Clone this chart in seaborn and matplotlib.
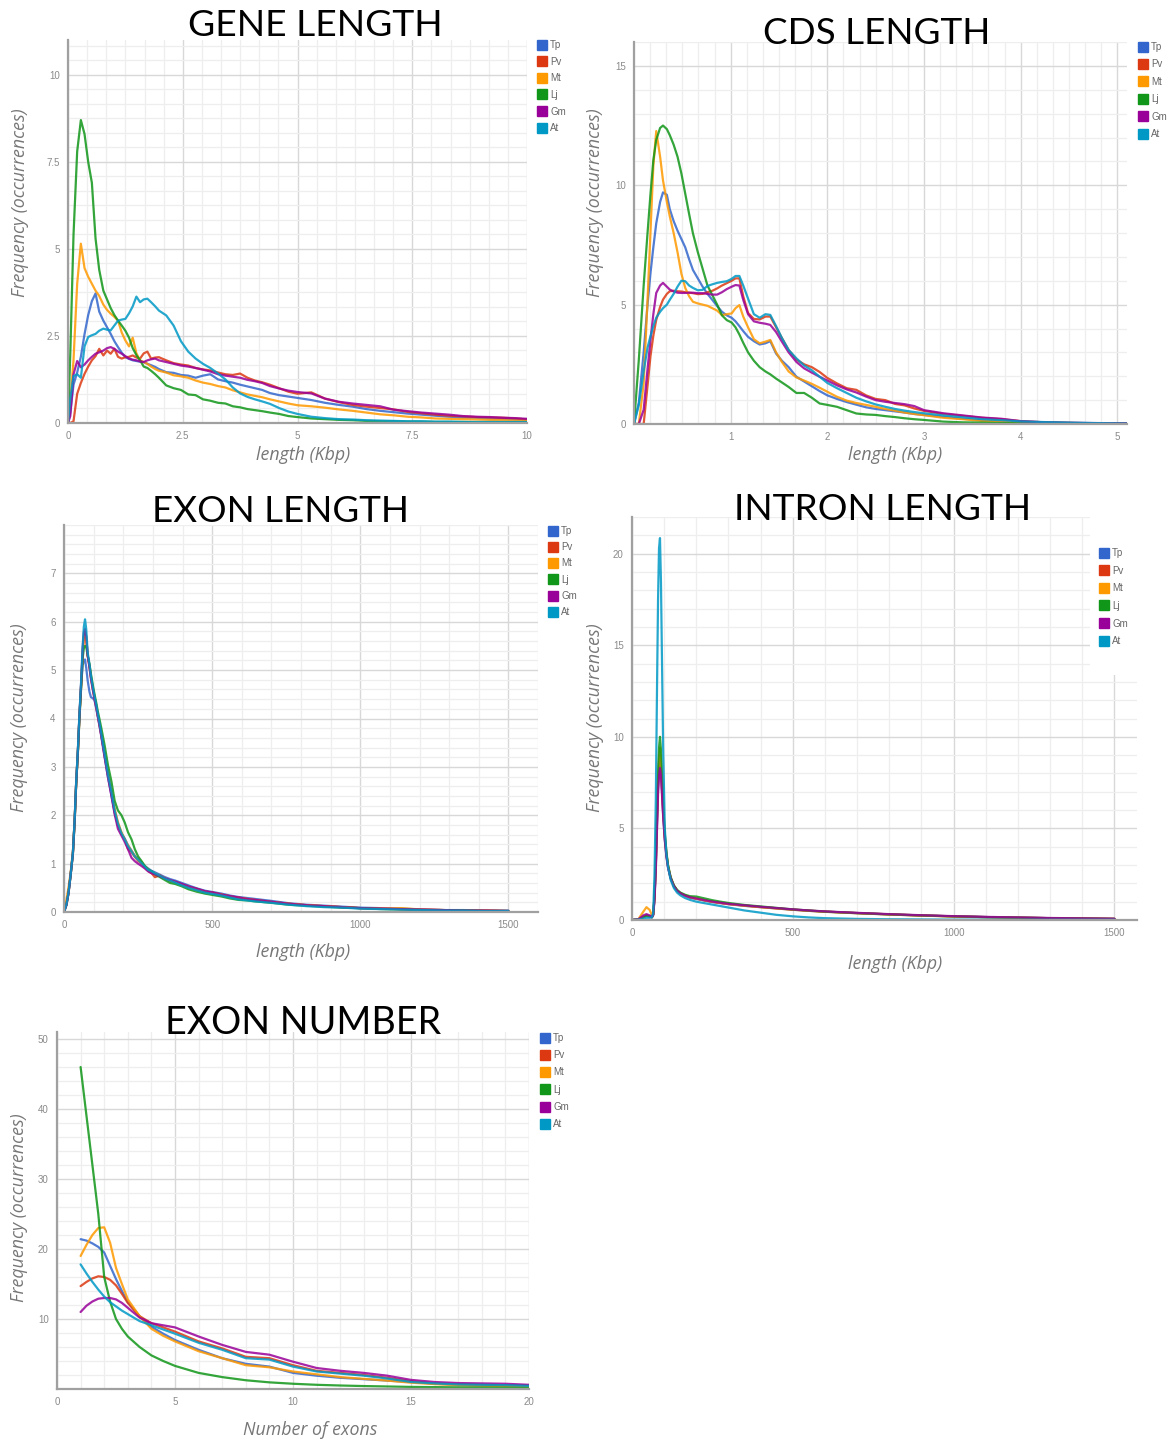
import matplotlib
matplotlib.use("Agg")
import matplotlib.pyplot as plt
from matplotlib.lines import Line2D
from matplotlib.patches import Rectangle
from matplotlib.ticker import MultipleLocator
import pandas as pd
import seaborn as sns

SPECIES = ["Tp", "Pv", "Mt", "Lj", "Gm", "At"]
COLORS = {"Tp": "#3366cc", "Pv": "#dc3912", "Mt": "#ff9900",
          "Lj": "#109618", "Gm": "#990099", "At": "#0099c6"}

# ---------------- gene length (Kbp) ----------------
gene_x = [0, 0.05, 0.12, 0.2, 0.28, 0.36, 0.44, 0.52, 0.6, 0.68,
          0.77, 0.85, 0.93, 1.01, 1.09, 1.17, 1.25, 1.33, 1.41, 1.49,
          1.57, 1.65, 1.73, 1.81, 1.9, 1.98, 2.14, 2.3, 2.46, 2.62,
          2.78, 2.94, 3.1, 3.27, 3.43, 3.59, 3.75, 3.91, 4.07, 4.23,
          4.4, 4.6, 4.8, 5.0, 5.3, 5.6, 5.9, 6.2, 6.5, 6.8,
          7.1, 7.4, 7.7, 8.0, 8.3, 8.6, 8.9, 9.2, 9.5, 9.75, 10.0]
gene_tp = [0, 0.3, 1.1, 1.45, 1.9, 2.55, 3.1, 3.5, 3.72, 3.2,
           2.94, 2.75, 2.56, 2.35, 2.18, 2.02, 1.89, 1.84, 1.8, 1.78,
           1.76, 1.75, 1.7, 1.66, 1.61, 1.55, 1.46, 1.44, 1.38, 1.36,
           1.3, 1.36, 1.4, 1.25, 1.2, 1.16, 1.1, 1.05, 1.0, 0.95,
           0.86, 0.8, 0.76, 0.72, 0.66, 0.58, 0.52, 0.47, 0.4, 0.35,
           0.31, 0.27, 0.24, 0.21, 0.18, 0.16, 0.15, 0.13, 0.12, 0.11, 0.1]
gene_pv = [0, 0, 0.05, 0.84, 1.15, 1.41, 1.62, 1.8, 1.92, 2.13,
           1.94, 2.08, 1.99, 2.13, 1.9, 1.85, 1.89, 1.9, 1.94, 1.88,
           1.85, 2.0, 2.05, 1.85, 1.88, 1.89, 1.8, 1.72, 1.68, 1.65,
           1.58, 1.54, 1.51, 1.45, 1.4, 1.38, 1.42, 1.3, 1.22, 1.17,
           1.1, 1.0, 0.9, 0.84, 0.88, 0.7, 0.6, 0.52, 0.47, 0.43,
           0.39, 0.32, 0.28, 0.24, 0.21, 0.19, 0.17, 0.16, 0.15, 0.13, 0.1]
gene_mt = [0, 0.6, 1.8, 4.0, 5.15, 4.45, 4.2, 4.0, 3.8, 3.65,
           3.4, 3.25, 3.14, 3.05, 2.94, 2.6, 2.37, 2.2, 2.45, 2.0,
           1.8, 1.75, 1.7, 1.62, 1.55, 1.5, 1.45, 1.37, 1.34, 1.3,
           1.22, 1.16, 1.12, 1.06, 1.02, 0.94, 0.88, 0.82, 0.78, 0.74,
           0.68, 0.62, 0.56, 0.51, 0.48, 0.44, 0.39, 0.35, 0.3, 0.25,
           0.22, 0.18, 0.16, 0.13, 0.12, 0.11, 0.1, 0.09, 0.08, 0.07, 0.06]
gene_lj = [0, 2.0, 5.4, 7.8, 8.7, 8.3, 7.5, 6.9, 5.3, 4.4,
           3.8, 3.55, 3.3, 3.1, 2.94, 2.8, 2.65, 2.45, 2.15, 1.95,
           1.8, 1.62, 1.58, 1.5, 1.4, 1.3, 1.08, 1.0, 0.95, 0.82,
           0.8, 0.68, 0.64, 0.58, 0.56, 0.48, 0.45, 0.4, 0.37, 0.34,
           0.3, 0.26, 0.2, 0.17, 0.13, 0.11, 0.09, 0.08, 0.06, 0.05,
           0.05, 0.04, 0.04, 0.03, 0.03, 0.03, 0.02, 0.02, 0.02, 0.02, 0.02]
gene_gm = [0, 0.2, 1.4, 1.78, 1.6, 1.68, 1.8, 1.9, 1.99, 2.03,
           2.08, 2.15, 2.18, 2.13, 2.05, 1.99, 1.92, 1.85, 1.82, 1.8,
           1.77, 1.75, 1.8, 1.83, 1.85, 1.8, 1.75, 1.7, 1.65, 1.62,
           1.58, 1.53, 1.48, 1.4, 1.36, 1.33, 1.3, 1.24, 1.2, 1.15,
           1.06, 0.99, 0.93, 0.89, 0.85, 0.7, 0.61, 0.56, 0.52, 0.48,
           0.38, 0.34, 0.3, 0.27, 0.24, 0.2, 0.18, 0.17, 0.15, 0.14, 0.12]
gene_at = [0, 0.7, 1.35, 1.4, 1.3, 2.2, 2.47, 2.52, 2.56, 2.65,
           2.71, 2.68, 2.66, 2.8, 2.94, 2.97, 2.99, 3.15, 3.35, 3.63,
           3.47, 3.55, 3.57, 3.47, 3.35, 3.23, 3.09, 2.8, 2.35, 2.05,
           1.85, 1.7, 1.58, 1.42, 1.25, 1.02, 0.85, 0.75, 0.68, 0.62,
           0.55, 0.43, 0.33, 0.26, 0.18, 0.14, 0.11, 0.1, 0.08, 0.07,
           0.06, 0.05, 0.05, 0.04, 0.04, 0.03, 0.03, 0.03, 0.03, 0.03, 0.03]

# ---------------- CDS length (Kbp) ----------------
cds_x = [0, 0.05, 0.1, 0.14, 0.17, 0.2, 0.23, 0.27, 0.3, 0.34,
         0.37, 0.41, 0.45, 0.49, 0.53, 0.57, 0.61, 0.66, 0.71, 0.76,
         0.81, 0.86, 0.91, 0.96, 1.01, 1.05, 1.09, 1.13, 1.18, 1.24,
         1.3, 1.36, 1.41, 1.47, 1.53, 1.6, 1.68, 1.76, 1.84, 1.92,
         2.0, 2.1, 2.2, 2.3, 2.4, 2.5, 2.6, 2.7, 2.8, 2.9,
         3.0, 3.2, 3.4, 3.6, 3.8, 4.0, 4.25, 4.5, 4.75, 5.1]
cds_tp = [0, 0.9, 3.0, 5.0, 6.3, 7.4, 8.4, 9.3, 9.7, 9.6,
          9.0, 8.5, 8.1, 7.75, 7.4, 6.9, 6.45, 6.1, 5.75, 5.45,
          5.2, 4.94, 4.7, 4.55, 4.45, 4.3, 4.1, 3.89, 3.65, 3.47,
          3.33, 3.38, 3.47, 2.95, 2.65, 2.38, 1.98, 1.78, 1.58, 1.38,
          1.2, 1.05, 0.92, 0.81, 0.7, 0.63, 0.58, 0.53, 0.48, 0.42,
          0.38, 0.3, 0.22, 0.16, 0.13, 0.09, 0.06, 0.04, 0.03, 0.02]
cds_pv = [0, 0, 0, 1.6, 2.83, 3.7, 4.36, 4.9, 5.21, 5.45,
          5.56, 5.58, 5.56, 5.55, 5.52, 5.5, 5.48, 5.44, 5.45, 5.52,
          5.58, 5.68, 5.8, 5.9, 6.0, 6.1, 6.1, 5.35, 4.65, 4.4,
          4.38, 4.5, 4.5, 4.05, 3.6, 3.1, 2.7, 2.5, 2.38, 2.18,
          1.93, 1.7, 1.5, 1.43, 1.2, 1.05, 1.0, 0.84, 0.78, 0.65,
          0.55, 0.42, 0.34, 0.26, 0.2, 0.12, 0.07, 0.05, 0.03, 0.02]
cds_mt = [0, 0, 1.7, 5.2, 8.0, 10.8, 12.27, 11.2, 10.2, 9.3,
          8.7, 8.0, 7.2, 6.3, 5.7, 5.35, 5.12, 5.05, 5.0, 4.95,
          4.85, 4.75, 4.56, 4.6, 4.63, 4.85, 4.98, 4.5, 4.05, 3.55,
          3.38, 3.45, 3.52, 3.0, 2.6, 2.2, 1.95, 1.82, 1.68, 1.52,
          1.35, 1.14, 0.98, 0.88, 0.8, 0.72, 0.63, 0.56, 0.48, 0.42,
          0.37, 0.26, 0.2, 0.13, 0.1, 0.07, 0.05, 0.04, 0.03, 0.02]
cds_lj = [0, 2.7, 5.8, 8.0, 9.6, 11.05, 11.9, 12.4, 12.5, 12.35,
          12.1, 11.7, 11.2, 10.5, 9.65, 8.8, 7.98, 7.2, 6.5, 5.8,
          5.4, 5.0, 4.55, 4.35, 4.25, 4.05, 3.75, 3.4, 3.0, 2.65,
          2.38, 2.2, 2.08, 1.9, 1.74, 1.55, 1.3, 1.3, 1.1, 0.86,
          0.8, 0.72, 0.58, 0.44, 0.4, 0.38, 0.33, 0.29, 0.24, 0.2,
          0.17, 0.1, 0.07, 0.06, 0.04, 0.03, 0.02, 0.02, 0.01, 0.01]
cds_gm = [0, 0, 0.6, 2.3, 3.5, 4.6, 5.49, 5.8, 5.91, 5.75,
          5.63, 5.55, 5.5, 5.49, 5.49, 5.5, 5.5, 5.48, 5.48, 5.45,
          5.42, 5.42, 5.52, 5.65, 5.75, 5.82, 5.8, 5.2, 4.6, 4.3,
          4.24, 4.2, 4.15, 3.85, 3.45, 3.0, 2.6, 2.33, 2.15, 1.98,
          1.82, 1.62, 1.45, 1.32, 1.15, 1.0, 0.93, 0.88, 0.83, 0.75,
          0.58, 0.45, 0.36, 0.27, 0.22, 0.12, 0.07, 0.05, 0.04, 0.03]
cds_at = [0, 0.8, 2.2, 3.2, 3.67, 4.1, 4.45, 4.7, 4.85, 5.0,
          5.2, 5.45, 5.75, 6.0, 5.98, 5.8, 5.7, 5.6, 5.62, 5.78,
          5.85, 5.91, 5.95, 5.98, 6.08, 6.2, 6.2, 5.8, 5.25, 4.6,
          4.45, 4.6, 4.57, 4.1, 3.6, 3.1, 2.75, 2.45, 2.25, 1.98,
          1.72, 1.5, 1.3, 1.1, 0.95, 0.82, 0.72, 0.63, 0.56, 0.5,
          0.45, 0.36, 0.28, 0.2, 0.16, 0.11, 0.08, 0.06, 0.04, 0.02]

# ---------------- exon length ----------------
exon_x = [0, 8, 15, 22, 30, 36, 41, 47, 52, 58, 63,
          67, 71, 75, 80, 86, 91, 97, 103, 109, 114,
          120, 126, 137, 148, 160, 171, 182, 194, 205, 216,
          228, 239, 250, 262, 273, 284, 296, 307, 324, 341,
          358, 375, 398, 420, 448, 476, 504, 532, 560, 589,
          617, 645, 700, 760, 820, 880, 940, 1000, 1070, 1140,
          1210, 1280, 1350, 1420, 1500]
exon_tp = [0, 0.15, 0.4, 0.76, 1.22, 1.9, 2.66, 3.35, 4.04, 4.7, 5.1,
           5.2, 5.22, 5.05, 4.78, 4.55, 4.44, 4.42, 4.38, 4.2, 4.05,
           3.85, 3.65, 3.22, 2.8, 2.42, 2.05, 1.8, 1.62, 1.52, 1.38,
           1.27, 1.16, 1.1, 1.02, 0.95, 0.9, 0.85, 0.82, 0.77, 0.72,
           0.68, 0.65, 0.6, 0.55, 0.49, 0.44, 0.41, 0.38, 0.34, 0.31,
           0.29, 0.27, 0.23, 0.18, 0.15, 0.13, 0.11, 0.09, 0.08, 0.07,
           0.05, 0.04, 0.04, 0.03, 0.03]
exon_pv = [0, 0.15, 0.38, 0.74, 1.2, 1.88, 2.64, 3.33, 4.02, 4.72, 5.38,
           5.7, 5.8, 5.68, 5.3, 5.08, 4.84, 4.62, 4.42, 4.25, 4.06,
           3.88, 3.66, 3.25, 2.85, 2.46, 2.08, 1.8, 1.62, 1.5, 1.3,
           1.24, 1.14, 1.06, 1.0, 0.92, 0.85, 0.8, 0.72, 0.76, 0.69,
           0.65, 0.62, 0.57, 0.52, 0.48, 0.42, 0.4, 0.36, 0.32, 0.3,
           0.27, 0.25, 0.21, 0.17, 0.14, 0.12, 0.1, 0.08, 0.07, 0.06,
           0.05, 0.04, 0.03, 0.03, 0.02]
exon_mt = [0, 0.25, 0.5, 0.8, 1.25, 1.92, 2.66, 3.34, 4.02, 4.7, 5.35,
           5.62, 5.7, 5.6, 5.3, 5.1, 4.86, 4.64, 4.44, 4.26, 4.08,
           3.88, 3.67, 3.27, 2.86, 2.5, 2.13, 1.86, 1.65, 1.5, 1.38,
           1.26, 1.16, 1.08, 1.02, 0.95, 0.88, 0.82, 0.8, 0.74, 0.7,
           0.64, 0.62, 0.56, 0.52, 0.46, 0.42, 0.38, 0.36, 0.32, 0.29,
           0.27, 0.24, 0.2, 0.17, 0.14, 0.12, 0.1, 0.08, 0.07, 0.08,
           0.05, 0.04, 0.03, 0.03, 0.02]
exon_lj = [0, 0.14, 0.38, 0.74, 1.2, 1.88, 2.62, 3.3, 3.98, 4.65, 5.25,
           5.45, 5.5, 5.48, 5.3, 5.12, 4.92, 4.7, 4.5, 4.32, 4.15,
           3.98, 3.8, 3.45, 3.05, 2.7, 2.3, 2.1, 2.0, 1.85, 1.65,
           1.5, 1.3, 1.15, 1.05, 0.95, 0.88, 0.84, 0.78, 0.72, 0.66,
           0.6, 0.58, 0.53, 0.47, 0.42, 0.38, 0.35, 0.32, 0.28, 0.25,
           0.24, 0.22, 0.19, 0.15, 0.13, 0.11, 0.09, 0.08, 0.06, 0.05,
           0.04, 0.04, 0.03, 0.02, 0.02]
exon_gm = [0, 0.14, 0.38, 0.75, 1.21, 1.9, 2.66, 3.35, 4.05, 4.76, 5.45,
           5.78, 5.85, 5.7, 5.3, 5.05, 4.82, 4.6, 4.4, 4.22, 4.04,
           3.84, 3.62, 3.2, 2.8, 2.4, 2.02, 1.72, 1.58, 1.45, 1.3,
           1.12, 1.05, 1.0, 0.95, 0.9, 0.84, 0.8, 0.78, 0.74, 0.7,
           0.66, 0.63, 0.58, 0.53, 0.48, 0.43, 0.4, 0.36, 0.33, 0.3,
           0.27, 0.25, 0.21, 0.17, 0.14, 0.12, 0.1, 0.08, 0.07, 0.06,
           0.05, 0.04, 0.03, 0.03, 0.02]
exon_at = [0, 0.15, 0.39, 0.75, 1.22, 1.92, 2.68, 3.38, 4.08, 4.8, 5.5,
           5.9, 6.05, 5.85, 5.36, 5.12, 4.88, 4.66, 4.46, 4.28, 4.1,
           3.9, 3.68, 3.27, 2.86, 2.48, 2.1, 1.83, 1.63, 1.5, 1.36,
           1.25, 1.15, 1.08, 1.01, 0.94, 0.87, 0.84, 0.8, 0.75, 0.69,
           0.65, 0.61, 0.55, 0.5, 0.45, 0.4, 0.37, 0.34, 0.3, 0.26,
           0.24, 0.22, 0.19, 0.15, 0.12, 0.1, 0.09, 0.07, 0.06, 0.05,
           0.04, 0.03, 0.03, 0.02, 0.02]

# ---------------- intron length ----------------
intron_x = [0, 20, 35, 45, 55, 62, 66, 70, 74, 78,
            81, 84, 87, 90, 93, 97, 102, 107, 112, 120,
            130, 140, 150, 165, 180, 200, 225, 250, 275, 300,
            350, 400, 450, 500, 550, 600, 700, 800, 900, 1000,
            1100, 1200, 1300, 1400, 1500]
intron_tp = [0, 0.03, 0.15, 0.22, 0.18, 0.14, 0.28, 1.2, 2.9, 5.4,
             7.2, 8.3, 8.7, 8.2, 7.1, 5.7, 4.4, 3.5, 2.9, 2.3,
             1.85, 1.6, 1.45, 1.32, 1.22, 1.15, 1.06, 0.98, 0.92, 0.86,
             0.77, 0.7, 0.63, 0.56, 0.5, 0.45, 0.37, 0.3, 0.24, 0.2,
             0.16, 0.13, 0.1, 0.08, 0.06]
intron_pv = [0, 0.03, 0.18, 0.25, 0.2, 0.15, 0.3, 1.25, 3.0, 5.6,
             7.5, 8.6, 9.0, 8.5, 7.3, 5.9, 4.5, 3.6, 2.95, 2.32,
             1.88, 1.62, 1.47, 1.34, 1.25, 1.18, 1.09, 1.0, 0.94, 0.88,
             0.79, 0.71, 0.64, 0.57, 0.51, 0.46, 0.38, 0.31, 0.25, 0.2,
             0.16, 0.13, 0.1, 0.08, 0.06]
intron_mt = [0, 0.05, 0.45, 0.7, 0.55, 0.25, 0.35, 1.3, 3.1, 5.8,
             7.8, 8.9, 9.4, 8.8, 7.6, 6.1, 4.6, 3.65, 2.95, 2.3,
             1.85, 1.6, 1.46, 1.33, 1.24, 1.16, 1.07, 0.99, 0.93, 0.87,
             0.78, 0.7, 0.63, 0.56, 0.5, 0.45, 0.37, 0.3, 0.24, 0.19,
             0.15, 0.12, 0.1, 0.08, 0.06]
intron_lj = [0, 0.03, 0.15, 0.25, 0.2, 0.15, 0.3, 1.3, 3.2, 6.0,
             8.0, 9.4, 10.0, 9.3, 8.0, 6.3, 4.7, 3.7, 3.0, 2.35,
             1.9, 1.65, 1.5, 1.38, 1.3, 1.28, 1.18, 1.08, 1.0, 0.93,
             0.82, 0.74, 0.66, 0.58, 0.52, 0.46, 0.38, 0.31, 0.25, 0.2,
             0.16, 0.13, 0.1, 0.08, 0.06]
intron_gm = [0, 0.04, 0.25, 0.32, 0.25, 0.16, 0.28, 1.1, 2.7, 5.1,
             6.9, 7.9, 8.3, 7.9, 6.9, 5.6, 4.35, 3.45, 2.85, 2.28,
             1.85, 1.6, 1.46, 1.33, 1.24, 1.17, 1.08, 1.0, 0.94, 0.88,
             0.8, 0.72, 0.65, 0.58, 0.52, 0.47, 0.39, 0.32, 0.26, 0.21,
             0.17, 0.14, 0.11, 0.09, 0.07]
intron_at = [0, 0.02, 0.08, 0.12, 0.12, 0.15, 0.4, 2.5, 6.5, 13.0,
             17.5, 20.3, 20.85, 18.5, 14.5, 9.2, 5.0, 3.6, 2.9, 2.2,
             1.75, 1.5, 1.35, 1.2, 1.1, 1.0, 0.92, 0.84, 0.76, 0.68,
             0.52, 0.4, 0.28, 0.2, 0.14, 0.1, 0.06, 0.04, 0.03, 0.02,
             0.02, 0.01, 0.01, 0.01, 0.01]

# ---------------- exon number ----------------
exnum_x = [1, 1.25, 1.5, 1.75, 2, 2.25, 2.5, 2.75, 3, 3.5, 4, 4.5, 5,
           6, 7, 8, 9, 10, 11, 12, 13, 14, 15, 16, 17, 18, 19, 20]
exnum_tp = [21.4, 21.2, 20.8, 20.3, 19.5, 17.6, 15.7, 14.0, 12.4, 10.4, 8.9, 7.9, 7.0,
            5.6, 4.4, 3.6, 3.2, 2.3, 1.9, 1.6, 1.4, 1.2, 1.0, 0.75, 0.6, 0.5, 0.47, 0.45]
exnum_pv = [14.7, 15.3, 15.8, 16.1, 16.0, 15.6, 14.8, 13.6, 12.3, 10.4, 9.4, 8.8, 8.2,
            6.8, 5.8, 4.6, 4.4, 3.4, 2.6, 2.3, 2.0, 1.6, 1.1, 0.8, 0.7, 0.6, 0.55, 0.5]
exnum_mt = [19.0, 20.6, 22.0, 23.0, 23.1, 20.9, 17.3, 15.0, 12.8, 10.4, 8.6, 7.6, 6.8,
            5.4, 4.4, 3.4, 3.1, 2.5, 2.1, 1.7, 1.45, 1.2, 0.9, 0.7, 0.55, 0.48, 0.42, 0.38]
exnum_lj = [46.0, 39.0, 32.0, 25.0, 16.0, 12.5, 10.0, 8.6, 7.5, 6.0, 4.8, 4.0, 3.3,
            2.3, 1.7, 1.25, 0.95, 0.75, 0.6, 0.5, 0.42, 0.36, 0.3, 0.27, 0.24, 0.21, 0.19, 0.17]
exnum_gm = [11.0, 11.9, 12.5, 12.9, 13.0, 13.0, 12.8, 12.3, 11.6, 10.2, 9.4, 9.1, 8.8,
            7.5, 6.3, 5.3, 4.9, 3.9, 3.0, 2.6, 2.3, 1.9, 1.3, 1.0, 0.85, 0.8, 0.75, 0.6]
exnum_at = [17.8, 16.5, 15.3, 14.2, 13.2, 12.4, 11.8, 11.2, 10.7, 9.7, 9.1, 8.5, 7.9,
            6.6, 5.6, 4.4, 4.2, 3.2, 2.5, 2.2, 1.9, 1.5, 1.0, 0.8, 0.65, 0.6, 0.55, 0.45]

# ---------------- figure ----------------
sns.set_style("white")
plt.rcParams["font.family"] = ["Liberation Sans", "DejaVu Sans"]

W, H = 1172, 1441
fig = plt.figure(figsize=(W / 100, H / 100), dpi=100)
renderer = fig.canvas.get_renderer()

TICK_COLOR = "#8a8a8a"
LABEL_COLOR = "#777777"
AXIS_TITLE_SIZE = 12.8


def px_axes(left, top, right, bottom):
    return fig.add_axes([left / W, 1 - bottom / H, (right - left) / W, (bottom - top) / H])


def fitted_text(cx, cy, s, width_px, **kw):
    t = fig.text(cx / W, 1 - cy / H, s, ha="center", va="center", fontsize=20, **kw)
    w = t.get_window_extent(renderer).width
    t.set_fontsize(20 * width_px / w)
    return t


def long_frame(x, series):
    rows = []
    for sp in SPECIES:
        for xv, yv in zip(x, series[sp]):
            rows.append({"x": xv, "y": yv, "species": sp})
    return pd.DataFrame(rows)


def panel(box, x, series, xlim, ylim, xticks, xlabels, yticks, ylabels,
          xminor, yminor, title, title_c, title_w, xlabel, xlabel_c,
          ylabel_c, legend_xy, legend_pitch):
    ax = px_axes(*box)
    df = long_frame(x, series)
    sns.lineplot(data=df, x="x", y="y", hue="species", hue_order=SPECIES,
                 palette=COLORS, estimator=None, errorbar=None, sort=False,
                 legend=False, linewidth=1.6, alpha=0.85, ax=ax)
    ax.set_xlim(*xlim)
    ax.set_ylim(*ylim)
    ax.set_xticks(xticks, xlabels)
    ax.set_yticks(yticks, ylabels)
    ax.xaxis.set_minor_locator(MultipleLocator(xminor))
    ax.yaxis.set_minor_locator(MultipleLocator(yminor))
    ax.set_axisbelow(True)
    ax.grid(which="major", color="#d8d8d8", linewidth=1.0)
    ax.grid(which="minor", color="#eeeeee", linewidth=0.9)
    ax.tick_params(which="both", length=0, labelsize=7, colors=TICK_COLOR, pad=6)
    ax.set_xlabel("")
    ax.set_ylabel("")
    for side in ("top", "right"):
        ax.spines[side].set_visible(False)
    for side in ("left", "bottom"):
        ax.spines[side].set_color("#a0a0a0")
        ax.spines[side].set_linewidth(1.6)

    fitted_text(title_c[0], title_c[1], title, title_w, family="Lato", color="black")
    fig.text(xlabel_c[0] / W, 1 - xlabel_c[1] / H, xlabel, ha="center", va="center",
             fontsize=AXIS_TITLE_SIZE, style="italic", family="Open Sans", color=LABEL_COLOR)
    fig.text(ylabel_c[0] / W, 1 - ylabel_c[1] / H, "Frequency (occurrences)",
             ha="center", va="center", rotation=90, fontsize=AXIS_TITLE_SIZE,
             style="italic", family="Open Sans", color=LABEL_COLOR)

    handles = [Line2D([0], [0], marker="s", linestyle="None", markersize=7,
                      markerfacecolor=COLORS[sp], markeredgecolor=COLORS[sp])
               for sp in SPECIES]
    fs = 7
    text_h = fs * 100 / 72
    ax.legend(handles, SPECIES, loc="upper left",
              bbox_to_anchor=(legend_xy[0] / W, 1 - legend_xy[1] / H),
              bbox_transform=fig.transFigure, frameon=False, fontsize=fs,
              labelcolor="#666666", handlelength=0.9, handletextpad=0.35,
              borderpad=0, borderaxespad=0,
              labelspacing=(legend_pitch - text_h * 1.046) / text_h)
    return ax


panel((68, 40, 527, 423), gene_x,
      {"Tp": gene_tp, "Pv": gene_pv, "Mt": gene_mt, "Lj": gene_lj, "Gm": gene_gm, "At": gene_at},
      (0, 10), (0, 11), [0, 2.5, 5, 7.5, 10], ["0", "2.5", "5", "7.5", "10"],
      [0, 2.5, 5, 7.5, 10], ["0", "2.5", "5", "7.5", "10"], 2.5 / 6, 2.5 / 6,
      "GENE LENGTH", (315, 26), 254, "length (Kbp)", (303, 455), (20, 203),
      (538, 40), 16.8)

panel((634, 42, 1127, 424), cds_x,
      {"Tp": cds_tp, "Pv": cds_pv, "Mt": cds_mt, "Lj": cds_lj, "Gm": cds_gm, "At": cds_at},
      (0, 5.1), (0, 16), [1, 2, 3, 4, 5], ["1", "2", "3", "4", "5"],
      [0, 5, 10, 15], ["0", "5", "10", "15"], 1 / 6, 1,
      "CDS LENGTH", (877, 33), 227, "length (Kbp)", (895, 455), (595, 203),
      (1139, 42), 17.6)

panel((64, 525, 538, 912), exon_x,
      {"Tp": exon_tp, "Pv": exon_pv, "Mt": exon_mt, "Lj": exon_lj, "Gm": exon_gm, "At": exon_at},
      (0, 1600), (0, 8), [0, 500, 1000, 1500], ["0", "500", "1000", "1500"],
      list(range(8)), [str(v) for v in range(8)], 100, 0.2,
      "EXON LENGTH", (280, 512), 256, "length (Kbp)", (303, 952), (19, 718),
      (549, 526), 16.4)

ax4 = panel((632, 517, 1137, 920), intron_x,
            {"Tp": intron_tp, "Pv": intron_pv, "Mt": intron_mt, "Lj": intron_lj,
             "Gm": intron_gm, "At": intron_at},
            (0, 1570), (0, 22), [0, 500, 1000, 1500], ["0", "500", "1000", "1500"],
            [0, 5, 10, 15, 20], ["0", "5", "10", "15", "20"], 100, 1,
            "INTRON LENGTH", (883, 510), 297, "length (Kbp)", (895, 964), (595, 718),
            (1100, 548), 17.8)
# legend box masks the grid in the upper right corner
ax4.add_patch(Rectangle((0.907, 0.608), 0.093, 0.392, transform=ax4.transAxes,
                        facecolor="white", edgecolor="none", zorder=1))

panel((57, 1032, 529, 1389), exnum_x,
      {"Tp": exnum_tp, "Pv": exnum_pv, "Mt": exnum_mt, "Lj": exnum_lj, "Gm": exnum_gm, "At": exnum_at},
      (0, 20), (0, 51), [0, 5, 10, 15, 20], ["0", "5", "10", "15", "20"],
      [10, 20, 30, 40, 50], ["10", "20", "30", "40", "50"], 1, 2,
      "EXON NUMBER", (303, 1023), 275, "Number of exons", (310, 1430), (19, 1208),
      (541, 1033), 17.4)

fig.savefig("out.png", dpi=100, facecolor="white")
